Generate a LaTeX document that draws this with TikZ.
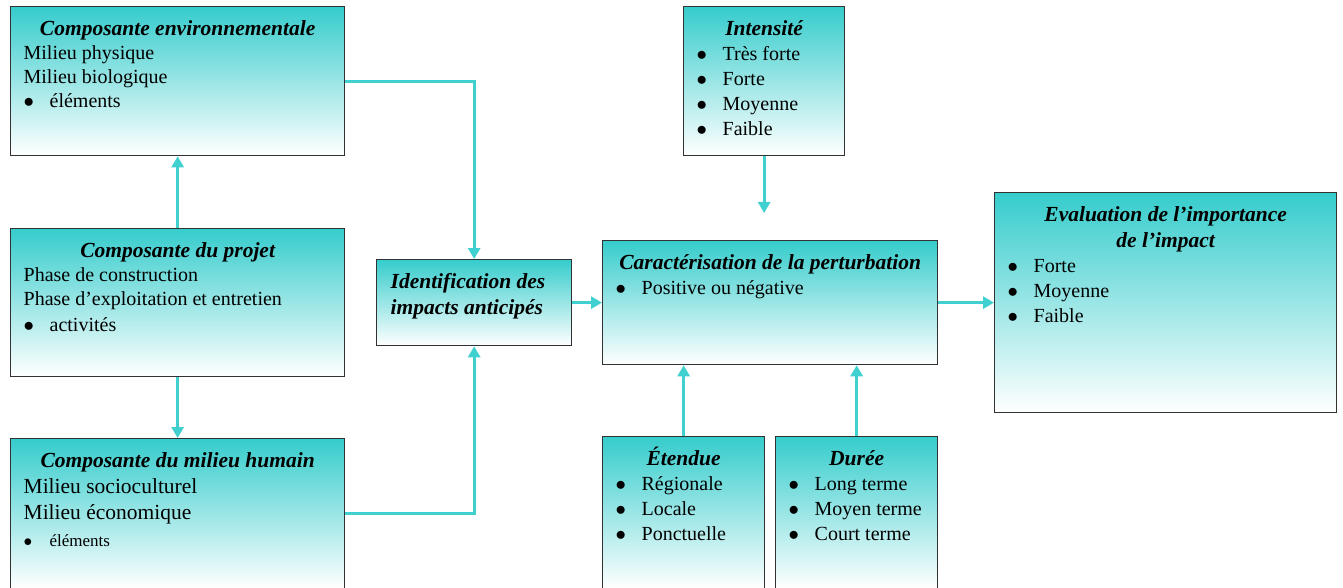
\documentclass[tikz,border=0pt]{standalone}
\usepackage{fontspec}
\setmainfont{Liberation Serif}
\usepackage{tikz}
\usepackage{xcolor}
\usetikzlibrary{arrows.meta}
\definecolor{box-teal}{RGB}{54,204,204}
\definecolor{link-teal}{RGB}{64,208,208}
\definecolor{box-line}{RGB}{50,50,50}
\tikzset{
    comp-box/.style = {draw=box-line, line width=1.3pt, top color=box-teal, bottom color=white, rectangle, anchor=north west, inner xsep=13pt, inner ysep=0pt, font=\fontsize{20}{25}\selectfont},
    link/.style = {draw=link-teal, line width=3pt, -{Triangle[length=11pt, width=12pt]}},
}
\newcommand{\comptitle}[1]{{\centering\fontsize{21.5}{26}\selectfont\bfseries\itshape\rule{0pt}{29pt}#1\par}}
\newcommand{\compitem}[1]{\makebox[26pt][l]{$\bullet$}#1\par}

\begin{document}
\begin{tikzpicture}[x=1pt, y=-1pt]
\useasboundingbox (0,0) rectangle (1343,588);

\node [comp-box] (env) at (10,6) {\begin{minipage}[c][149pt][t]{308pt}
    \comptitle{Composante environnementale}
    \fontsize{20}{24}\selectfont
    Milieu physique\par
    Milieu biologique\par
    \compitem{éléments}
\end{minipage}};
\node [comp-box] (projet) at (10,228) {\begin{minipage}[c][148pt][t]{308pt}
    \comptitle{Composante du projet}
    \fontsize{20}{24}\selectfont
    Phase de construction\par
    Phase d’exploitation et entretien\par
    {\fontsize{20}{25.5}\selectfont\compitem{activités}}
\end{minipage}};
\node [comp-box] (humain) at (10,438) {\begin{minipage}[c][150pt][t]{308pt}
    \comptitle{Composante du milieu humain}
    {\fontsize{21.5}{26}\selectfont Milieu socioculturel\par
    Milieu économique\par}
    {\fontsize{17}{27}\selectfont\compitem{éléments}}
\end{minipage}};
\node [comp-box, inner xsep=14pt] (ident) at (376,259) {\begin{minipage}[c][86pt][t]{167pt}
    {\fontsize{21.5}{26}\selectfont\bfseries\itshape\rule{0pt}{29pt}Identification des\\impacts anticipés\par}
\end{minipage}};
\node [comp-box] (intens) at (683,6) {\begin{minipage}[c][149pt][t]{135pt}
    \comptitle{Intensité}
    \compitem{Très forte}
    \compitem{Forte}
    \compitem{Moyenne}
    \compitem{Faible}
\end{minipage}};
\node [comp-box] (caract) at (602,240) {\begin{minipage}[c][124pt][t]{309pt}
    \comptitle{Caractérisation de la perturbation}
    \compitem{Positive ou négative}
\end{minipage}};
\node [comp-box] (eval) at (994,192) {\begin{minipage}[c][220pt][t]{316pt}
    \comptitle{Evaluation de l’importance\\de l’impact}
    \compitem{Forte}
    \compitem{Moyenne}
    \compitem{Faible}
\end{minipage}};
\node [comp-box] (etendue) at (602,436) {\begin{minipage}[c][152pt][t]{136pt}
    \comptitle{Étendue}
    \compitem{Régionale}
    \compitem{Locale}
    \compitem{Ponctuelle}
\end{minipage}};
\node [comp-box] (duree) at (775,436) {\begin{minipage}[c][152pt][t]{136pt}
    \comptitle{Durée}
    \compitem{Long terme}
    \compitem{Moyen terme}
    \compitem{Court terme}
\end{minipage}};

\coordinate (intens-tip) at ([yshift=27pt]caract.north -| intens.south);

\draw[link] (projet.north) -- (env.south);
\draw[link] (projet.south) -- (humain.north);
\draw[link] (env.east) -| (ident.north);
\draw[link] (humain.east) -| (ident.south);
\draw[link] (ident.east) -- (caract.west);
\draw[link] (caract.east) -- (eval.west);
\draw[link] (intens.south) -- (intens-tip);
\draw[link] (etendue.north) -- (etendue.north |- caract.south);
\draw[link] (duree.north) -- (duree.north |- caract.south);
\end{tikzpicture}
\end{document}
